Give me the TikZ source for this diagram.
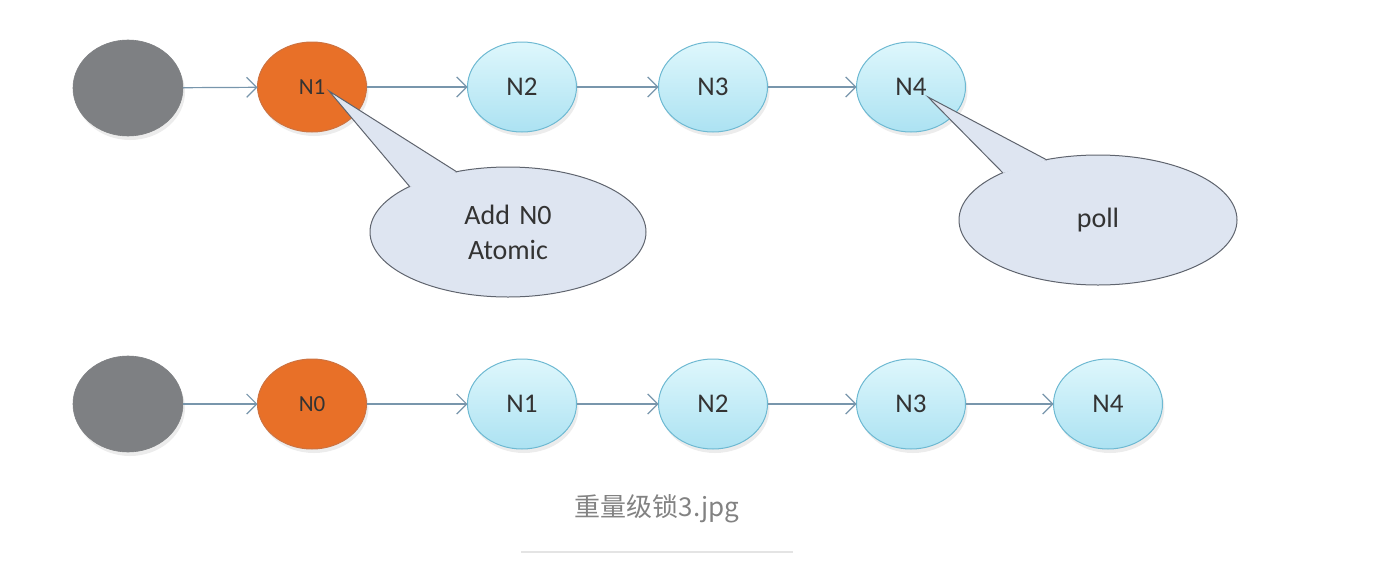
\documentclass[tikz,border=0pt]{standalone}
\usepackage{fontspec}
\setmainfont{Carlito}
\newfontfamily\cjk{Noto Sans CJK SC}
\usetikzlibrary{arrows.meta,shapes.geometric,shadows}
\definecolor{arrowc}{RGB}{120,150,172}
\definecolor{grayfill}{RGB}{126,128,131}
\definecolor{orangefill}{RGB}{232,112,40}
\definecolor{orangeline}{RGB}{205,115,65}
\definecolor{cyantop}{RGB}{222,247,252}
\definecolor{cyanbot}{RGB}{172,226,242}
\definecolor{cyanline}{RGB}{110,185,210}
\definecolor{calloutfill}{RGB}{222,229,241}
\definecolor{calloutline}{RGB}{95,100,110}
\definecolor{captionc}{RGB}{130,130,130}
\definecolor{rulec}{RGB}{228,228,228}
\tikzset{
  base/.style={ellipse, inner sep=0pt, outer sep=0pt, minimum width=109pt, minimum height=90pt,
    drop shadow={opacity=0.15, shadow xshift=2pt, shadow yshift=-4pt}},
  headnode/.style={base, fill=grayfill, draw=grayfill, line width=0.6pt, minimum height=96pt, minimum width=110pt},
  hotnode/.style={base, fill=orangefill, draw=orangeline, line width=1pt, font=\fontsize{23}{26}\selectfont, text=black!80},
  listnode/.style={base, top color=cyantop, bottom color=cyanbot, draw=cyanline, line width=1pt,
    font=\fontsize{27}{30}\selectfont, text=black!80},
  link/.style={draw=arrowc, line width=1.2pt, -{Straight Barb[length=10pt,width=20pt,line width=1.2pt]}},
  callout/.style={ellipse, inner sep=0pt, minimum width=276pt, minimum height=130pt, fill=calloutfill,
    draw=calloutline, line width=1pt, font=\fontsize{28}{35}\selectfont, text=black!80, align=center}
}
\begin{document}
\begin{tikzpicture}[x=1pt,y=-1pt]
\useasboundingbox (0,0) rectangle (1379,584);
% row 1
\node[headnode] (h1) at (128,88) {};
\node[hotnode] (a1) at (312,87) {N1};
\node[listnode] (a2) at (522,87) {N2};
\node[listnode] (a3) at (713,87) {N3};
\node[listnode] (a4) at (911,87) {N4};
\draw[link] (h1) -- (a1);
\draw[link] (a1) -- (a2);
\draw[link] (a2) -- (a3);
\draw[link] (a3) -- (a4);
% callout 1
\coordinate (t1) at (329,91);
\coordinate (b1l) at (410,187);
\coordinate (b1r) at (457,172);
\node[callout] (c1) at (508,232) {Add\,\,N0\\Atomic};
\fill[calloutfill] (t1) -- (b1l) -- (b1r) -- cycle;
\draw[calloutline, line width=1pt, line join=miter] (b1l) -- (t1) -- (b1r);
% callout 2
\coordinate (t2) at (928,97);
\coordinate (b2l) at (1003,173);
\coordinate (b2r) at (1047,160);
\node[callout, minimum width=278pt] (c2) at (1098,220) {poll};
\fill[calloutfill] (t2) -- (b2l) -- (b2r) -- cycle;
\draw[calloutline, line width=1pt, line join=miter] (b2l) -- (t2) -- (b2r);
% row 2
\node[headnode] (h2) at (128,404) {};
\node[hotnode] (b0) at (312,404) {N0};
\node[listnode] (b1) at (522,404) {N1};
\node[listnode] (b2) at (713,404) {N2};
\node[listnode] (b3) at (911,404) {N3};
\node[listnode] (b4) at (1108,404) {N4};
\draw[link] (h2) -- (b0);
\draw[link] (b0) -- (b1);
\draw[link] (b1) -- (b2);
\draw[link] (b2) -- (b3);
\draw[link] (b3) -- (b4);
% caption
\node[text=captionc, font=\cjk\fontsize{26}{29}\selectfont] (cap) at (657,509) {重量级锁3.jpg};
\coordinate (r1) at (521,552);
\coordinate (r2) at (793,552);
\draw[rulec, line width=1.5pt] (r1) -- (r2);
\end{tikzpicture}
\end{document}
